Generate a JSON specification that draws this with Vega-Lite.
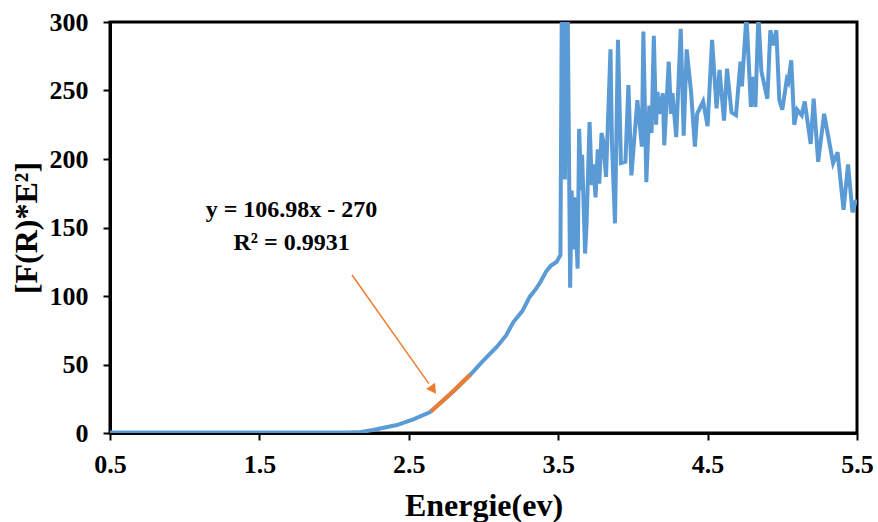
{
  "$schema": "https://vega.github.io/schema/vega-lite/v6.json",
  "width": 747,
  "height": 411,
  "autosize": {"type": "none"},
  "padding": {"left": 110, "top": 22, "right": 21, "bottom": 89},
  "background": "white",
  "config": {
    "view": {"stroke": "black", "strokeWidth": 3},
    "font": "Liberation Serif",
    "axis": {
      "grid": false,
      "domainColor": "black",
      "domainWidth": 3,
      "tickColor": "black",
      "tickWidth": 2,
      "tickSize": 7,
      "labelFlush": false,
      "labelOverlap": false,
      "labelFont": "Liberation Serif",
      "labelFontWeight": "bold",
      "labelFontSize": 26,
      "labelColor": "black",
      "titleFont": "Liberation Serif",
      "titleFontWeight": "bold",
      "titleFontSize": 32,
      "titleColor": "black"
    }
  },
  "datasets": {
    "curve": [
      {"x":0.5,"y":0.3},{"x":1.0,"y":0.3},{"x":1.5,"y":0.3},{"x":2.0,"y":0.3},{"x":2.1,"y":0.4},{"x":2.18,"y":0.8},{"x":2.26,"y":2.2},{"x":2.34,"y":4},{"x":2.42,"y":5.8},{"x":2.53,"y":10},{"x":2.64,"y":15.1},{"x":2.71,"y":21.7},{"x":2.8,"y":30.5},{"x":2.91,"y":42.3},{"x":3.0,"y":53},{"x":3.09,"y":63},{"x":3.15,"y":71},{"x":3.2,"y":81},{"x":3.26,"y":89},{"x":3.31,"y":99.5},{"x":3.35,"y":105},{"x":3.38,"y":110},{"x":3.42,"y":118},{"x":3.45,"y":122},{"x":3.49,"y":125},{"x":3.515,"y":130},{"x":3.525,"y":330},{"x":3.535,"y":330},{"x":3.545,"y":185},{"x":3.552,"y":330},{"x":3.562,"y":330},{"x":3.58,"y":106},{"x":3.59,"y":177},{"x":3.6,"y":134},{"x":3.61,"y":172},{"x":3.63,"y":120},{"x":3.64,"y":222},{"x":3.655,"y":177},{"x":3.66,"y":203},{"x":3.68,"y":131},{"x":3.69,"y":153},{"x":3.71,"y":227},{"x":3.725,"y":181},{"x":3.735,"y":196},{"x":3.75,"y":172},{"x":3.765,"y":207},{"x":3.775,"y":182},{"x":3.79,"y":219},{"x":3.8,"y":214},{"x":3.82,"y":187},{"x":3.85,"y":280},{"x":3.86,"y":211},{"x":3.88,"y":153},{"x":3.9,"y":287},{"x":3.92,"y":197},{"x":3.95,"y":198},{"x":3.97,"y":254},{"x":3.99,"y":188},{"x":4.03,"y":243},{"x":4.06,"y":209},{"x":4.07,"y":293},{"x":4.09,"y":183},{"x":4.11,"y":239},{"x":4.125,"y":219},{"x":4.14,"y":290},{"x":4.155,"y":225},{"x":4.165,"y":249},{"x":4.175,"y":233},{"x":4.2,"y":248},{"x":4.21,"y":210},{"x":4.24,"y":271},{"x":4.255,"y":233},{"x":4.265,"y":248},{"x":4.29,"y":216},{"x":4.32,"y":295},{"x":4.34,"y":217},{"x":4.36,"y":280},{"x":4.39,"y":248},{"x":4.415,"y":209},{"x":4.43,"y":233},{"x":4.47,"y":242},{"x":4.5,"y":224},{"x":4.53,"y":287},{"x":4.56,"y":237},{"x":4.58,"y":265},{"x":4.61,"y":228},{"x":4.63,"y":266},{"x":4.66,"y":234},{"x":4.69,"y":232},{"x":4.72,"y":271},{"x":4.73,"y":253},{"x":4.76,"y":305},{"x":4.79,"y":238},{"x":4.8,"y":260},{"x":4.82,"y":238},{"x":4.84,"y":305},{"x":4.86,"y":264},{"x":4.9,"y":244},{"x":4.92,"y":294},{"x":4.94,"y":283},{"x":4.96,"y":294},{"x":4.98,"y":243},{"x":5.0,"y":236},{"x":5.03,"y":258},{"x":5.04,"y":256},{"x":5.06,"y":272},{"x":5.08,"y":225},{"x":5.1,"y":236},{"x":5.13,"y":232},{"x":5.15,"y":242},{"x":5.19,"y":211},{"x":5.21,"y":244},{"x":5.24,"y":198},{"x":5.28,"y":233},{"x":5.34,"y":197},{"x":5.37,"y":205},{"x":5.41,"y":163},{"x":5.44,"y":196},{"x":5.47,"y":161},{"x":5.49,"y":169},{"x":5.5,"y":170}
    ],
    "fit": [{"x":2.65,"y":15.8},{"x":2.71,"y":21.9},{"x":2.8,"y":30.8},{"x":2.91,"y":42.5}],
    "labels": [
      {"x":1.715,"y":162.8,"label":"y = 106.98x - 270"},
      {"x":1.715,"y":138.7,"label":"R² = 0.9931"}
    ],
    "arrow": [{"x":2.12,"y":115.3,"x2":2.634,"y2":36}],
    "head": [{"x":2.658,"y":32.5}]
  },
  "layer": [
    {
      "data": {"name": "curve"},
      "mark": {"type": "line", "color": "#5B9BD5", "strokeWidth": 4, "clip": true},
      "encoding": {
        "x": {"field": "x", "type": "quantitative", "scale": {"domain": [0.5, 5.5], "nice": false, "zero": false},
              "axis": {"values": [0.5, 1.5, 2.5, 3.5, 4.5, 5.5], "format": ".1f", "title": "Energie(ev)", "labelPadding": 11, "titlePadding": 13}},
        "y": {"field": "y", "type": "quantitative", "scale": {"domain": [0, 300], "nice": false},
              "axis": {"values": [0, 50, 100, 150, 200, 250, 300], "title": "[F(R)*E²]", "labelPadding": 15, "titlePadding": 6}}
      }
    },
    {
      "data": {"name": "fit"},
      "mark": {"type": "line", "color": "#ED7D31", "strokeWidth": 4},
      "encoding": {
        "x": {"field": "x", "type": "quantitative"},
        "y": {"field": "y", "type": "quantitative"}
      }
    },
    {
      "data": {"name": "arrow"},
      "mark": {"type": "rule", "color": "#ED7D31", "strokeWidth": 1.5},
      "encoding": {
        "x": {"field": "x", "type": "quantitative"},
        "y": {"field": "y", "type": "quantitative"},
        "x2": {"field": "x2"},
        "y2": {"field": "y2"}
      }
    },
    {
      "data": {"name": "head"},
      "mark": {"type": "point", "shape": "triangle", "filled": true, "color": "#ED7D31", "size": 120, "angle": 145, "opacity": 1},
      "encoding": {
        "x": {"field": "x", "type": "quantitative"},
        "y": {"field": "y", "type": "quantitative"}
      }
    },
    {
      "data": {"name": "labels"},
      "mark": {"type": "text", "font": "Liberation Serif", "fontWeight": "bold", "fontSize": 24, "color": "black", "align": "center", "baseline": "middle"},
      "encoding": {
        "x": {"field": "x", "type": "quantitative"},
        "y": {"field": "y", "type": "quantitative"},
        "text": {"field": "label"}
      }
    }
  ]
}
